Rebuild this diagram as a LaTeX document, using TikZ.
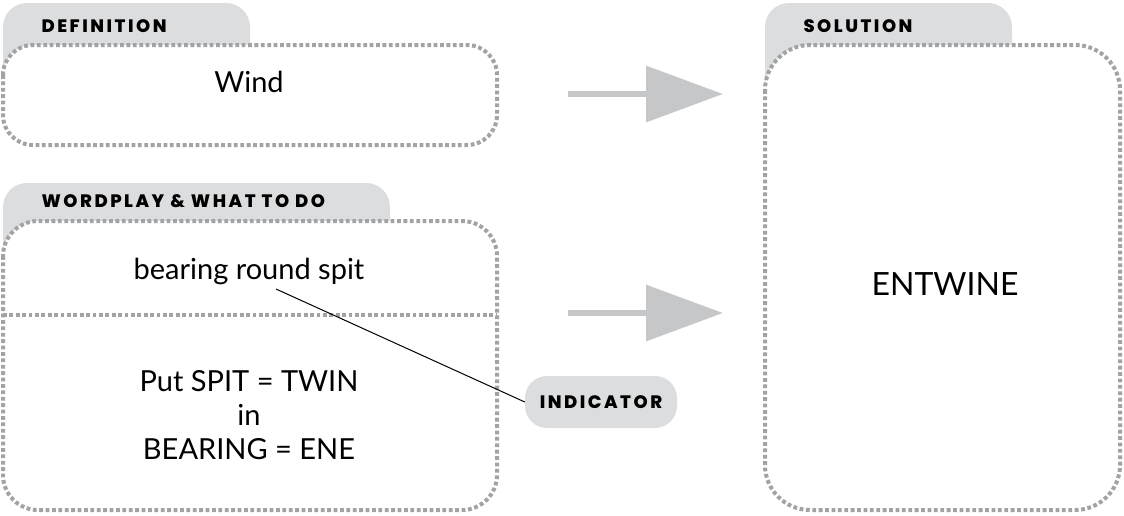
\documentclass[tikz,border=0pt]{standalone}
\usepackage{fontspec}
\setmainfont{Lato}
\newfontfamily\tabfont[LetterSpace=14, BoldFont={Poppins ExtraBold}]{Poppins}
\usetikzlibrary{arrows.meta}

\definecolor{tabgrau}{HTML}{DCDDDF}
\definecolor{punktgrau}{HTML}{A2A3A5}
\definecolor{pfeilgrau}{HTML}{C6C7C9}

\begin{document}
\begin{tikzpicture}[
		x=1pt, y=-1pt,
		every node/.style={font=\fontsize{29pt}{34pt}\selectfont},
		kasten/.style={fill=white, draw=punktgrau, line width=4pt, dash pattern=on 3.8pt off 2.6pt},
		reiter/.style={fill=tabgrau, rounded corners=24pt},
		reitertext/.style={anchor=west, font=\tabfont\bfseries\fontsize{18pt}{21pt}\selectfont},
		pfeil/.style={draw=pfeilgrau, line width=6.5pt, -{Triangle[length=77pt,width=55pt]}}
		]
		\useasboundingbox (0,0) rectangle (1124,515);
		
		% Reiter
		\fill [reiter] (3,3) rectangle (250,100);
		\fill [reiter] (3,183) rectangle (390,280);
		\fill [reiter] (765,3) rectangle (1012,120);
		
		% Kaesten
		\draw [kasten, rounded corners=30pt] (3,45) rectangle (497,145);
		\draw [kasten, rounded corners=35pt] (3,221) rectangle (497,510);
		\draw [kasten, rounded corners=45pt] (765,45) rectangle (1120,510);
		\draw [kasten] (3,315) -- (497,315);
		
		% Pfeile
		\coordinate (p1s) at (568,94);
		\coordinate (p1e) at (723,94);
		\coordinate (p2s) at (568,313);
		\coordinate (p2e) at (723,313);
		\draw [pfeil] (p1s) -- (p1e);
		\draw [pfeil] (p2s) -- (p2e);
		
		% Knoten
		\node [reitertext] (tdef) at (38,26) {DEFINITION};
		\node [reitertext] (twp) at (38,201) {WORDPLAY \& WHAT TO DO};
		\node [reitertext] (tsol) at (800,26) {SOLUTION};
		
		\node (wind) at (249,82) {Wind};
		\node (brs) at (249,271) {bearing round spit};
		\node [align=center] (wp) at (249,415) {Put SPIT = TWIN\\in\\BEARING = ENE};
		\node [font=\fontsize{32pt}{38pt}\selectfont] (sol) at (945,284) {ENTWINE};
		
		\node [fill=tabgrau, rounded corners=22pt, minimum width=152pt, minimum height=52pt,
			font=\tabfont\bfseries\fontsize{18pt}{21pt}\selectfont] (ind) at (601,402) {INDICATOR};
		
		\coordinate (zeig) at (276,289);
		\draw [line width=1pt] (zeig) -- (ind.west);
		
	\end{tikzpicture}
\end{document}
